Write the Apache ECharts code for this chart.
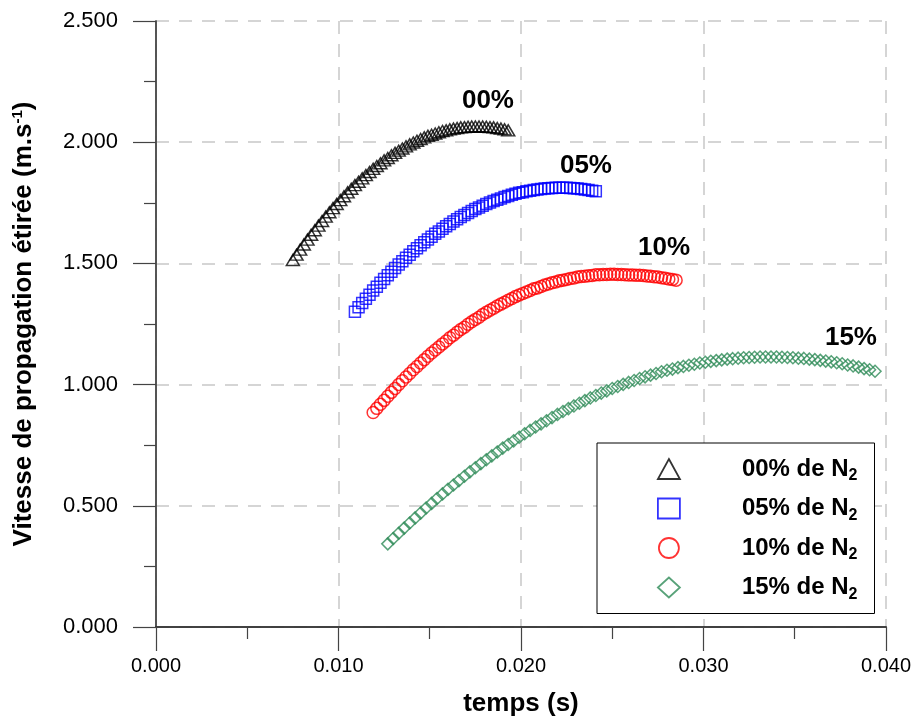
<!DOCTYPE html>
<html><head><meta charset="utf-8">
<script src="https://cdn.jsdelivr.net/npm/echarts@6/dist/echarts.min.js"></script>
<style>html,body{margin:0;padding:0;background:#fff}#c{width:914px;height:722px}</style>
</head><body><div id="c"></div>
<script>
// ---- data ----
const seriesNames = ['00% de N', '05% de N', '10% de N', '15% de N'];
const pctLabels = ['00%', '05%', '10%', '15%'];
const labelT = [0.01819, 0.02356, 0.02784, 0.03808];
const labelV = [2.170, 1.902, 1.564, 1.192];

const t00 = [0.0075,0.0077,0.0079,0.0081,0.0083,0.0085,0.0087,0.0089,0.0091,0.0093,0.0095,0.0097,0.0099,0.0101,0.0103,0.0105,0.0107,0.0109,0.0111,0.0113,0.0115,0.0117,0.0119,0.0121,0.0123,0.0125,0.0127,0.0129,0.0131,0.0133,0.0135,0.0137,0.0139,0.0141,0.0143,0.0145,0.0147,0.0149,0.0151,0.0153,0.0155,0.0157,0.0159,0.0161,0.0163,0.0165,0.0167,0.0169,0.0171,0.0173,0.0175,0.0177,0.0179,0.0181,0.0183,0.0185,0.0187,0.0189,0.0191,0.0193];
const v00 = [1.514,1.536,1.557,1.578,1.598,1.618,1.637,1.656,1.675,1.693,1.711,1.728,1.745,1.761,1.777,1.793,1.808,1.823,1.837,1.851,1.864,1.877,1.890,1.902,1.913,1.925,1.935,1.946,1.956,1.965,1.974,1.983,1.991,1.999,2.006,2.013,2.020,2.026,2.031,2.036,2.041,2.046,2.049,2.053,2.056,2.058,2.061,2.062,2.064,2.065,2.065,2.065,2.065,2.064,2.062,2.061,2.058,2.056,2.053,2.049];

const t05 = [0.0109,0.0111,0.0113,0.0115,0.0117,0.0119,0.0121,0.0123,0.0125,0.0127,0.0129,0.0131,0.0133,0.0135,0.0137,0.0139,0.0141,0.0143,0.0145,0.0147,0.0149,0.0151,0.0153,0.0155,0.0157,0.0159,0.0161,0.0163,0.0165,0.0167,0.0169,0.0171,0.0173,0.0175,0.0177,0.0179,0.0181,0.0183,0.0185,0.0187,0.0189,0.0191,0.0193,0.0195,0.0197,0.0199,0.0201,0.0203,0.0205,0.0207,0.0209,0.0211,0.0213,0.0215,0.0217,0.0219,0.0221,0.0223,0.0225,0.0227,0.0229,0.0231,0.0233,0.0235,0.0237,0.0239,0.0241];
const v05 = [1.301,1.319,1.337,1.354,1.371,1.388,1.404,1.420,1.436,1.451,1.466,1.481,1.495,1.509,1.523,1.536,1.550,1.562,1.575,1.587,1.599,1.610,1.622,1.632,1.643,1.653,1.663,1.673,1.682,1.691,1.700,1.708,1.716,1.724,1.731,1.738,1.745,1.751,1.757,1.763,1.768,1.774,1.778,1.783,1.787,1.791,1.794,1.798,1.800,1.803,1.805,1.807,1.809,1.810,1.811,1.812,1.812,1.812,1.812,1.811,1.810,1.809,1.807,1.805,1.803,1.800,1.798];

const t10 = [0.0119,0.0121,0.0123,0.0125,0.0127,0.0129,0.0131,0.0133,0.0135,0.0137,0.0139,0.0141,0.0143,0.0145,0.0147,0.0149,0.0151,0.0153,0.0155,0.0157,0.0159,0.0161,0.0163,0.0165,0.0167,0.0169,0.0171,0.0173,0.0175,0.0177,0.0179,0.0181,0.0183,0.0185,0.0187,0.0189,0.0191,0.0193,0.0195,0.0197,0.0199,0.0201,0.0203,0.0205,0.0207,0.0209,0.0211,0.0213,0.0215,0.0217,0.0219,0.0221,0.0223,0.0225,0.0227,0.0229,0.0231,0.0233,0.0235,0.0237,0.0239,0.0241,0.0243,0.0245,0.0247,0.0249,0.0251,0.0253,0.0255,0.0257,0.0259,0.0261,0.0263,0.0265,0.0267,0.0269,0.0271,0.0273,0.0275,0.0277,0.0279,0.0281,0.0283,0.0285];
const v10 = [0.885,0.902,0.919,0.935,0.952,0.968,0.984,1.000,1.016,1.031,1.046,1.061,1.075,1.089,1.103,1.117,1.130,1.143,1.155,1.168,1.180,1.193,1.204,1.216,1.227,1.237,1.249,1.259,1.269,1.278,1.289,1.298,1.307,1.315,1.324,1.332,1.340,1.348,1.355,1.363,1.370,1.376,1.382,1.388,1.395,1.399,1.405,1.411,1.415,1.420,1.423,1.428,1.431,1.434,1.438,1.440,1.444,1.446,1.447,1.449,1.450,1.453,1.453,1.454,1.454,1.455,1.455,1.454,1.454,1.453,1.452,1.452,1.451,1.451,1.450,1.448,1.447,1.445,1.444,1.441,1.439,1.436,1.434,1.431];

const t15 = [0.0127,0.0130,0.0133,0.0136,0.0139,0.0142,0.0145,0.0148,0.0151,0.0154,0.0157,0.0160,0.0163,0.0166,0.0169,0.0172,0.0175,0.0178,0.0181,0.0184,0.0187,0.0190,0.0193,0.0196,0.0199,0.0202,0.0205,0.0208,0.0211,0.0214,0.0217,0.0220,0.0223,0.0226,0.0229,0.0232,0.0235,0.0238,0.0241,0.0244,0.0247,0.0250,0.0253,0.0256,0.0259,0.0262,0.0265,0.0268,0.0271,0.0274,0.0277,0.0280,0.0283,0.0286,0.0289,0.0292,0.0295,0.0298,0.0301,0.0304,0.0307,0.0310,0.0313,0.0316,0.0319,0.0322,0.0325,0.0328,0.0331,0.0334,0.0337,0.0340,0.0343,0.0346,0.0349,0.0352,0.0355,0.0358,0.0361,0.0364,0.0367,0.0370,0.0373,0.0376,0.0379,0.0382,0.0385,0.0388,0.0391,0.0394];
const v15 = [0.343,0.365,0.387,0.408,0.429,0.450,0.470,0.491,0.510,0.530,0.549,0.568,0.586,0.604,0.622,0.640,0.657,0.674,0.690,0.706,0.722,0.738,0.753,0.768,0.783,0.797,0.811,0.825,0.838,0.851,0.864,0.877,0.889,0.901,0.912,0.923,0.934,0.945,0.955,0.965,0.974,0.984,0.992,1.001,1.009,1.017,1.025,1.032,1.039,1.046,1.053,1.059,1.064,1.070,1.075,1.080,1.084,1.089,1.092,1.096,1.099,1.102,1.105,1.107,1.109,1.111,1.112,1.113,1.114,1.114,1.114,1.114,1.113,1.112,1.111,1.109,1.108,1.105,1.103,1.100,1.097,1.094,1.090,1.086,1.081,1.077,1.072,1.066,1.061,1.055];

const xTicks = [0, 0.04, 0.01];   // min, max, interval
const yTicks = [0, 2.5, 0.5];

// ---- styles ----
const FONT = 'Liberation Sans, Arial, sans-serif';
const colors = ['#000000', '#0000ff', '#ff0000', '#2e8b57'];
const symbols = ['triangle', 'rect', 'circle', 'diamond'];
const symSizes = [[13, 11], 11, 12, [12, 12]];
const times = [t00, t05, t10, t15];
const vals = [v00, v05, v10, v15];

const series = seriesNames.map((name, i) => ({
  name: name,
  type: 'scatter',
  symbol: symbols[i],
  symbolSize: symSizes[i],
  itemStyle: { color: 'rgba(0,0,0,0)', borderColor: colors[i], borderWidth: 1.5 },
  emphasis: { disabled: true },
  data: times[i].map((t, k) => [t, vals[i][k]]),
  markPoint: {
    symbol: 'circle', symbolSize: 1,
    itemStyle: { color: 'rgba(0,0,0,0)' },
    label: { show: true, position: 'inside', formatter: pctLabels[i], fontSize: 26, fontWeight: 'bold', color: '#000', fontFamily: FONT },
    data: [{ coord: [labelT[i], labelV[i]] }]
  }
}));

const splitStyle = { type: [13, 10], color: '#c8c8c8', width: 1.5 };

const option = {
  animation: false,
  backgroundColor: '#fff',
  grid: { left: 156, right: 28, top: 21, bottom: 95 },
  xAxis: [{
    type: 'value', min: xTicks[0], max: xTicks[1], interval: xTicks[2],
    axisLine: { show: true, onZero: false, lineStyle: { color: '#000', width: 1.5 } },
    axisTick: { show: true, length: 24, lineStyle: { color: '#444', width: 1.2 } },
    minorTick: { show: true, splitNumber: 2, length: 12, lineStyle: { color: '#444', width: 1.2 } },
    axisLabel: { formatter: v => v.toFixed(3), fontSize: 20, color: '#000', margin: 29, fontFamily: FONT },
    splitLine: { show: true, lineStyle: splitStyle },
    name: 'temps (s)', nameLocation: 'middle', nameGap: 64,
    nameTextStyle: { fontSize: 26, fontWeight: 'bold', color: '#000', fontFamily: FONT }
  }, {
    type: 'value', position: 'top', min: xTicks[0], max: xTicks[1], interval: xTicks[2],
    axisLine: { show: true, lineStyle: { color: '#444', width: 1.5 } },
    axisTick: { show: false }, axisLabel: { show: false }, splitLine: { show: false }
  }],
  yAxis: [{
    type: 'value', min: yTicks[0], max: yTicks[1], interval: yTicks[2],
    axisLine: { show: true, onZero: false, lineStyle: { color: '#666', width: 1.5 } },
    axisTick: { show: true, length: 23, lineStyle: { color: '#444', width: 1.2 } },
    minorTick: { show: true, splitNumber: 2, length: 12, lineStyle: { color: '#444', width: 1.2 } },
    axisLabel: { formatter: v => v.toFixed(3), fontSize: 22, color: '#000', margin: 38, fontFamily: FONT },
    splitLine: { show: true, lineStyle: splitStyle },
    name: '{a|Vitesse de propagation étirée (m.s}{sup|-1}{a|)}',
    nameLocation: 'middle', nameGap: 119, nameRotate: 90,
    nameTextStyle: {
      rich: {
        a: { fontSize: 26, fontWeight: 'bold', color: '#000', fontFamily: FONT },
        sup: { fontSize: 15, fontWeight: 'bold', color: '#000', fontFamily: FONT, verticalAlign: 'top', padding: [0, 0, 12, 0] }
      }
    }
  }, {
    type: 'value', position: 'right', min: yTicks[0], max: yTicks[1], interval: yTicks[2],
    axisLine: { show: true, lineStyle: { color: '#444', width: 1.5 } },
    axisTick: { show: false }, axisLabel: { show: false }, splitLine: { show: false }
  }],
  legend: {
    orient: 'vertical', left: 597, top: 443,
    padding: [14, 17, 11, 60],
    itemWidth: 22, itemHeight: 20, itemGap: 12.5,
    borderColor: '#000', borderWidth: 1, backgroundColor: '#fff',
    selectedMode: false,
    data: seriesNames.map((n, i) => ({
      name: n, icon: symbols[i],
      itemStyle: { color: 'rgba(0,0,0,0)', borderColor: colors[i], borderWidth: 1.8 }
    })),
    formatter: n => '{g|}{b|' + n + '}{s|2}',
    textStyle: {
      rich: {
        g: { width: 57 },
        b: { fontSize: 24, fontWeight: 'bold', color: '#000', fontFamily: FONT, lineHeight: 30 },
        s: { fontSize: 16, fontWeight: 'bold', color: '#000', fontFamily: FONT, verticalAlign: 'bottom', lineHeight: 16 }
      }
    }
  },
  series: series
};

const chart = echarts.init(document.getElementById('c'), null, { renderer: 'canvas' });
chart.setOption(option);
</script>
</body></html>
